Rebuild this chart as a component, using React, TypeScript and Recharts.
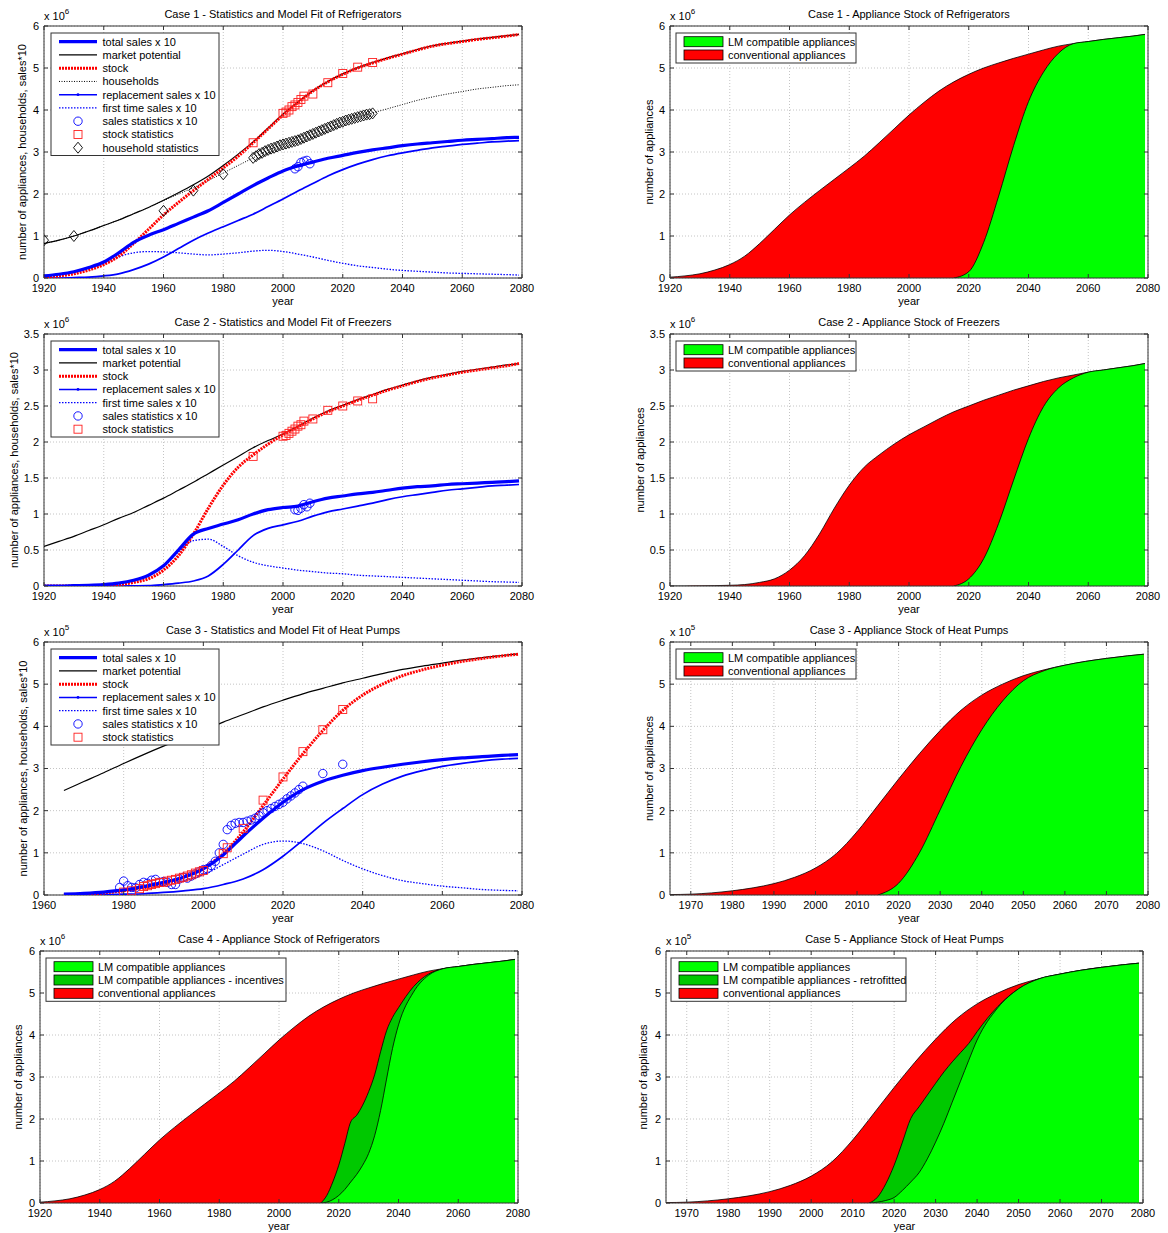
import React from 'react';
import {
  ComposedChart,
  Line,
  Area,
  Scatter,
  XAxis,
  YAxis,
  CartesianGrid,
  ReferenceArea,
} from 'recharts';

const FONT = '"Liberation Sans", Arial, Helvetica, sans-serif';
const BLUE = '#0000ff';
const RED = '#ff0000';
const GREEN = '#00ff00';
const DARK_GREEN = '#00c800';

// ---- axis ticks ----
const ticks1920 = [1920, 1940, 1960, 1980, 2000, 2020, 2040, 2060, 2080];
const ticks1960 = [1960, 1980, 2000, 2020, 2040, 2060, 2080];
const ticks1970 = [1970, 1980, 1990, 2000, 2010, 2020, 2030, 2040, 2050, 2060, 2070, 2080];
const ticksY6 = [0, 1, 2, 3, 4, 5, 6];
const ticksY35 = [0, 0.5, 1, 1.5, 2, 2.5, 3, 3.5];

// ---- model years ----
const yearsLong = [1920, 1925, 1930, 1935, 1940, 1945, 1950, 1955, 1960, 1965, 1970, 1975, 1980, 1985, 1990, 1995, 2000,
  2005, 2010, 2015, 2020, 2025, 2030, 2035, 2040, 2045, 2050, 2055, 2060, 2065, 2070, 2075, 2079];
const yearsHp = [1965, 1970, 1975, 1980, 1985, 1990, 1995, 2000, 2005, 2010, 2015, 2020, 2025, 2030, 2035, 2040, 2045,
  2050, 2055, 2060, 2065, 2070, 2075, 2079];

// ---- refrigerators (x 10^6) ----
const fridgeStock = [0.02, 0.05, 0.1, 0.19, 0.32, 0.52, 0.82, 1.16, 1.5, 1.8, 2.08, 2.35, 2.62, 2.9, 3.22, 3.55, 3.88,
  4.18, 4.45, 4.67, 4.85, 5.0, 5.12, 5.23, 5.33, 5.43, 5.52, 5.58, 5.63, 5.68, 5.72, 5.76, 5.8];
const fridgeMarket = [0.82, 0.9, 1.0, 1.12, 1.25, 1.38, 1.53, 1.68, 1.85, 2.03, 2.22, 2.43, 2.68, 2.95, 3.24, 3.57, 3.9,
  4.19, 4.46, 4.68, 4.86, 5.01, 5.13, 5.24, 5.34, 5.44, 5.53, 5.59, 5.64, 5.69, 5.73, 5.77, 5.8];
const fridgeHouseholds = [0.82, 0.9, 1.0, 1.12, 1.25, 1.38, 1.53, 1.68, 1.84, 2.0, 2.15, 2.32, 2.5, 2.68, 2.86, 3.04, 3.18,
  3.28, 3.43, 3.58, 3.72, 3.83, 3.93, 4.03, 4.13, 4.23, 4.31, 4.38, 4.44, 4.5, 4.54, 4.58, 4.6];
const fridgeTotal = [0.05, 0.09, 0.15, 0.25, 0.38, 0.6, 0.85, 1.02, 1.15, 1.3, 1.45, 1.6, 1.8, 2.0, 2.2, 2.38, 2.55,
  2.67, 2.76, 2.85, 2.92, 2.99, 3.05, 3.1, 3.15, 3.19, 3.22, 3.25, 3.28, 3.3, 3.32, 3.34, 3.35];
const fridgeRepl = [0, 0, 0.01, 0.02, 0.05, 0.1, 0.2, 0.33, 0.5, 0.7, 0.9, 1.07, 1.22, 1.37, 1.52, 1.7, 1.88,
  2.07, 2.25, 2.43, 2.58, 2.71, 2.82, 2.91, 2.98, 3.04, 3.1, 3.14, 3.18, 3.21, 3.24, 3.26, 3.27];
const fridgeFirst = [0.05, 0.09, 0.14, 0.23, 0.33, 0.5, 0.6, 0.63, 0.62, 0.6, 0.57, 0.55, 0.57, 0.6, 0.64, 0.66, 0.63,
  0.57, 0.5, 0.42, 0.35, 0.29, 0.25, 0.21, 0.18, 0.16, 0.14, 0.12, 0.11, 0.1, 0.09, 0.08, 0.07];

const fridgeSalesYears = [2004, 2005, 2006, 2007, 2008, 2009];
const fridgeSalesStats = [2.6, 2.65, 2.75, 2.78, 2.8, 2.72];
const fridgeStockYears = [1990, 2000, 2001, 2002, 2003, 2004, 2005, 2006, 2007, 2010, 2015, 2020, 2025, 2030];
const fridgeStockStats = [3.22, 3.92, 3.95, 4.0, 4.08, 4.12, 4.18, 4.25, 4.33, 4.38, 4.65, 4.87, 5.02, 5.13];
const householdYears = [1920, 1930, 1960, 1970, 1980,
  1990, 1991, 1992, 1993, 1994, 1995, 1996, 1997, 1998, 1999, 2000, 2001, 2002, 2003, 2004, 2005, 2006, 2007, 2008, 2009,
  2010, 2011, 2012, 2013, 2014, 2015, 2016, 2017, 2018, 2019, 2020, 2021, 2022, 2023, 2024, 2025, 2026, 2027, 2028, 2029, 2030];
const householdStats = [0.9, 1.0, 1.6, 2.08, 2.47,
  2.86, 2.9, 2.95, 2.98, 3.02, 3.05, 3.08, 3.1, 3.13, 3.16, 3.18, 3.2, 3.22, 3.24, 3.26, 3.28, 3.31, 3.34, 3.37, 3.4,
  3.43, 3.46, 3.49, 3.52, 3.55, 3.58, 3.61, 3.64, 3.67, 3.7, 3.72, 3.75, 3.77, 3.79, 3.81, 3.83, 3.85, 3.87, 3.89, 3.9, 3.92];

// ---- freezers (x 10^6) ----
const freezerStock = [0, 0, 0.002, 0.005, 0.01, 0.02, 0.05, 0.1, 0.22, 0.42, 0.72, 1.08, 1.4, 1.65, 1.82, 1.97, 2.1,
  2.21, 2.32, 2.42, 2.5, 2.58, 2.65, 2.72, 2.78, 2.84, 2.89, 2.93, 2.97, 3.0, 3.03, 3.06, 3.09];
const freezerMarket = [0.55, 0.62, 0.69, 0.77, 0.85, 0.94, 1.02, 1.12, 1.22, 1.33, 1.44, 1.56, 1.68, 1.8, 1.92, 2.02, 2.11,
  2.22, 2.33, 2.43, 2.51, 2.59, 2.66, 2.73, 2.79, 2.85, 2.9, 2.94, 2.98, 3.01, 3.04, 3.07, 3.09];
const freezerTotal = [0, 0, 0.005, 0.01, 0.02, 0.04, 0.08, 0.15, 0.28, 0.5, 0.72, 0.8, 0.86, 0.92, 1.0, 1.06, 1.09,
  1.11, 1.17, 1.22, 1.25, 1.28, 1.3, 1.33, 1.36, 1.38, 1.39, 1.41, 1.42, 1.43, 1.44, 1.45, 1.46];
const freezerRepl = [0, 0, 0, 0, 0, 0, 0.002, 0.005, 0.02, 0.04, 0.07, 0.14, 0.3, 0.5, 0.7, 0.8, 0.85,
  0.9, 0.97, 1.03, 1.07, 1.11, 1.15, 1.2, 1.24, 1.27, 1.3, 1.33, 1.35, 1.37, 1.39, 1.4, 1.41];
const freezerFirst = [0, 0, 0.005, 0.01, 0.02, 0.04, 0.08, 0.15, 0.27, 0.47, 0.63, 0.65, 0.55, 0.42, 0.33, 0.28, 0.25,
  0.22, 0.2, 0.18, 0.17, 0.15, 0.14, 0.13, 0.12, 0.11, 0.1, 0.09, 0.08, 0.07, 0.06, 0.055, 0.05];

const freezerSalesYears = [2004, 2005, 2006, 2007, 2008, 2009];
const freezerSalesStats = [1.06, 1.05, 1.08, 1.13, 1.1, 1.15];
const freezerStockYears = [1990, 2000, 2001, 2002, 2003, 2004, 2005, 2006, 2007, 2010, 2015, 2020, 2025, 2030];
const freezerStockStats = [1.8, 2.08, 2.09, 2.12, 2.15, 2.18, 2.22, 2.24, 2.29, 2.32, 2.44, 2.5, 2.57, 2.6];

// ---- heat pumps (x 10^5) ----
const hpStock = [0.01, 0.02, 0.05, 0.1, 0.17, 0.27, 0.42, 0.64, 0.98, 1.5, 2.12, 2.75, 3.35, 3.9, 4.38, 4.74, 5.0,
  5.2, 5.34, 5.45, 5.54, 5.61, 5.67, 5.71];
const hpMarket = [2.48, 2.69, 2.9, 3.12, 3.33, 3.53, 3.72, 3.9, 4.1, 4.28, 4.46, 4.62, 4.77, 4.9, 5.03, 5.14, 5.25,
  5.35, 5.43, 5.5, 5.57, 5.63, 5.68, 5.72];
const hpTotal = [0.02, 0.04, 0.07, 0.12, 0.2, 0.3, 0.42, 0.62, 0.95, 1.4, 1.82, 2.2, 2.5, 2.7, 2.84, 2.95, 3.03,
  3.1, 3.16, 3.21, 3.25, 3.28, 3.31, 3.33];
const hpRepl = [0, 0.005, 0.01, 0.02, 0.03, 0.06, 0.1, 0.15, 0.25, 0.38, 0.6, 0.92, 1.3, 1.7, 2.05, 2.38, 2.63,
  2.82, 2.95, 3.05, 3.12, 3.18, 3.22, 3.24];
const hpFirst = [0.02, 0.035, 0.06, 0.1, 0.17, 0.25, 0.34, 0.48, 0.72, 0.97, 1.2, 1.28, 1.22, 1.05, 0.82, 0.62, 0.46,
  0.34, 0.27, 0.21, 0.17, 0.13, 0.11, 0.1];

const hpSalesYears = [1979, 1980, 1981, 1982, 1983, 1984, 1985, 1986, 1987, 1988, 1989, 1990, 1991, 1992, 1993, 1994,
  1995, 1996, 1997, 1998, 1999, 2000, 2001, 2002, 2003, 2004, 2005, 2006, 2007, 2008, 2009, 2010, 2011, 2012, 2013,
  2014, 2015, 2016, 2017, 2018, 2019, 2020, 2021, 2022, 2023, 2024, 2025, 2030, 2035];
const hpSalesStats = [0.18, 0.33, 0.22, 0.18, 0.17, 0.25, 0.3, 0.28, 0.35, 0.37, 0.3, 0.32, 0.3, 0.25, 0.25, 0.38,
  0.42, 0.4, 0.45, 0.5, 0.55, 0.6, 0.62, 0.7, 0.8, 1.0, 1.2, 1.55, 1.65, 1.7, 1.72, 1.72, 1.75, 1.78, 1.82,
  1.88, 1.95, 2.0, 2.05, 2.1, 2.15, 2.2, 2.28, 2.35, 2.42, 2.5, 2.58, 2.88, 3.1];
const hpStockYears = [1980, 1982, 1984, 1985, 1986, 1987, 1988, 1989, 1990, 1991, 1992, 1993, 1994, 1995, 1996, 1997,
  1998, 1999, 2000, 2005, 2006, 2010, 2015, 2020, 2025, 2030, 2035];
const hpStockStats = [0.07, 0.1, 0.15, 0.2, 0.22, 0.25, 0.27, 0.3, 0.3, 0.33, 0.35, 0.37, 0.4, 0.42, 0.45, 0.48,
  0.52, 0.55, 0.58, 0.98, 1.12, 1.58, 2.25, 2.8, 3.4, 3.92, 4.4];

// ---- LM compatible stock ----
const lmYears = [2015, 2020, 2025, 2030, 2035, 2040, 2045, 2050, 2055, 2060, 2065, 2070, 2075, 2079];
const case1Lm = [0, 0.15, 0.85, 1.95, 3.15, 4.2, 4.9, 5.35, 5.58, 5.63, 5.68, 5.72, 5.76, 5.8];
const case2Lm = [0, 0.1, 0.38, 0.87, 1.47, 2.05, 2.49, 2.75, 2.89, 2.97, 3.0, 3.03, 3.06, 3.09];
const case3Lm = [0, 0.28, 1.0, 2.02, 3.05, 3.92, 4.6, 5.08, 5.32, 5.45, 5.54, 5.61, 5.67, 5.71];

const policyYears = [2014, 2016, 2018, 2020, 2022, 2024, 2026, 2028, 2030, 2032, 2034, 2036, 2038, 2040, 2045, 2050,
  2055, 2060, 2065, 2070, 2075, 2079];
const case4Incent = [0, 0.18, 0.5, 0.9, 1.41, 1.93, 2.09, 2.33, 2.65, 3.05, 3.6, 4.1, 4.42, 4.65, 5.15, 5.45,
  5.58, 5.63, 5.68, 5.72, 5.76, 5.8];
const case4Lm = [0, 0.02, 0.08, 0.18, 0.32, 0.5, 0.68, 0.9, 1.18, 1.6, 2.2, 2.95, 3.68, 4.24, 5.02, 5.42,
  5.58, 5.63, 5.68, 5.72, 5.76, 5.8];
const case5Retro = [0, 0.14, 0.46, 0.9, 1.45, 2.01, 2.29, 2.57, 2.85, 3.12, 3.36, 3.58, 3.8, 4.08, 4.68, 5.1,
  5.34, 5.45, 5.54, 5.61, 5.67, 5.71];
const case5Lm = [0, 0.02, 0.06, 0.13, 0.3, 0.5, 0.72, 1.05, 1.45, 1.9, 2.4, 2.9, 3.4, 3.88, 4.65, 5.1,
  5.34, 5.45, 5.54, 5.61, 5.67, 5.71];

type Row = { year: number; [k: string]: number };

// merge several [years, values] series into one table keyed by year
function table(cols: Record<string, [number[], number[]]>): Row[] {
  const rows = new Map<number, Row>();
  Object.entries(cols).forEach(([key, [years, vals]]) => {
    years.forEach((y, i) => {
      const r = rows.get(y) ?? { year: y };
      r[key] = vals[i];
      rows.set(y, r);
    });
  });
  return [...rows.values()].sort((a, b) => a.year - b.year);
}

const points = (years: number[], vals: number[]) => years.map((year, i) => ({ year, v: vals[i] }));

const fridgeTable = table({
  total: [yearsLong, fridgeTotal], market: [yearsLong, fridgeMarket], stock: [yearsLong, fridgeStock],
  households: [yearsLong, fridgeHouseholds], repl: [yearsLong, fridgeRepl], first: [yearsLong, fridgeFirst],
});
const freezerTable = table({
  total: [yearsLong, freezerTotal], market: [yearsLong, freezerMarket], stock: [yearsLong, freezerStock],
  repl: [yearsLong, freezerRepl], first: [yearsLong, freezerFirst],
});
const hpTable = table({
  total: [yearsHp, hpTotal], market: [yearsHp, hpMarket], stock: [yearsHp, hpStock],
  repl: [yearsHp, hpRepl], first: [yearsHp, hpFirst],
});
const case1Table = table({ stock: [yearsLong, fridgeStock], lm: [lmYears, case1Lm] });
const case2Table = table({ stock: [yearsLong, freezerStock], lm: [lmYears, case2Lm] });
const case3Table = table({ stock: [yearsHp, hpStock], lm: [lmYears, case3Lm] });
const case4Table = table({ stock: [yearsLong, fridgeStock], extra: [policyYears, case4Incent], lm: [policyYears, case4Lm] });
const case5Table = table({ stock: [yearsHp, hpStock], extra: [policyYears, case5Retro], lm: [policyYears, case5Lm] });

// ---- plot boxes (page coordinates of the axes rectangle) ----
type Box = { left: number; top: number; w: number; h: number };
const P1: Box = { left: 44, top: 26, w: 478, h: 252 };
const P2: Box = { left: 670, top: 26, w: 478, h: 252 };
const P3: Box = { left: 44, top: 334, w: 478, h: 252 };
const P4: Box = { left: 670, top: 334, w: 478, h: 252 };
const P5: Box = { left: 44, top: 642, w: 478, h: 253 };
const P6: Box = { left: 670, top: 642, w: 478, h: 253 };
const P7: Box = { left: 40, top: 951, w: 478, h: 252 };
const P8: Box = { left: 666, top: 951, w: 477, h: 252 };

const Circle = (p: any) => <circle cx={p.cx} cy={p.cy} r={4.2} fill="none" stroke={BLUE} strokeWidth={0.9} />;
const Square = (p: any) => (
  <rect x={p.cx - 4} y={p.cy - 4} width={8} height={8} fill="none" stroke="#ff2020" strokeWidth={0.9} />
);
const Diamond = (p: any) => (
  <path d={`M${p.cx},${p.cy - 5.5}L${p.cx + 4.5},${p.cy}L${p.cx},${p.cy + 5.5}L${p.cx - 4.5},${p.cy}Z`}
    fill="none" stroke="#000" strokeWidth={0.9} />
);

const tickStyle = { fontSize: 11, fill: '#000', fontFamily: FONT };
const GAP = 5;
const TICK = 4;

function Panel({ box, xDomain, xTicks, yMax, yTicks, data, children }: {
  box: Box; xDomain: [number, number]; xTicks: number[]; yMax: number; yTicks: number[]; data: Row[];
  children: React.ReactNode;
}) {
  const ml = 50, mt = 10, mr = 14, mb = 30;
  // MATLAB style: tick marks point inward on all four sides
  const xTick = (p: any) => {
    const bottom = p.y - GAP;
    const top = bottom - box.h;
    return (
      <g>
        <line x1={p.x} x2={p.x} y1={bottom} y2={bottom - TICK} stroke="#333" />
        <line x1={p.x} x2={p.x} y1={top} y2={top + TICK} stroke="#333" />
        <text x={p.x} y={p.y + 1} dy="0.71em" textAnchor="middle" {...tickStyle}>{p.payload.value}</text>
      </g>
    );
  };
  const yTick = (p: any) => {
    const left = p.x + GAP;
    const right = left + box.w;
    return (
      <g>
        <line x1={left} x2={left + TICK} y1={p.y} y2={p.y} stroke="#333" />
        <line x1={right} x2={right - TICK} y1={p.y} y2={p.y} stroke="#333" />
        <text x={p.x} y={p.y} dy="0.355em" textAnchor="end" {...tickStyle}>{p.payload.value}</text>
      </g>
    );
  };
  return (
    <div style={{ position: 'absolute', left: box.left - ml, top: box.top - mt }}>
      <ComposedChart width={ml + box.w + mr} height={mt + box.h + mb} data={data}
        margin={{ top: mt, right: mr, bottom: 0, left: 0 }}>
        <CartesianGrid stroke="#c4c4c4" strokeDasharray="1 2" />
        <XAxis dataKey="year" type="number" domain={xDomain} ticks={xTicks} allowDataOverflow interval={0}
          height={mb} tickLine={false} tickSize={0} tickMargin={GAP} axisLine={false} tick={xTick} />
        <YAxis type="number" domain={[0, yMax]} ticks={yTicks} allowDataOverflow interval={0}
          width={ml} tickLine={false} tickSize={0} tickMargin={GAP} axisLine={false} tick={yTick} />
        {children}
        <ReferenceArea x1={xDomain[0]} x2={xDomain[1]} y1={0} y2={yMax} fill="none" fillOpacity={0}
          stroke="#333" strokeWidth={1} ifOverflow="visible" />
      </ComposedChart>
    </div>
  );
}

const line = (key: string, stroke: string, width: number, dash?: string) => (
  <Line key={key} dataKey={key} type="monotone" stroke={stroke} strokeWidth={width} strokeDasharray={dash}
    dot={false} activeDot={false} connectNulls isAnimationActive={false} />
);

const area = (key: string, fill: string) => (
  <Area key={key} dataKey={key} type="monotone" fill={fill} fillOpacity={1} stroke="#000" strokeWidth={0.8}
    dot={false} activeDot={false} connectNulls isAnimationActive={false} />
);

const scatter = (key: string, years: number[], vals: number[], shape: any) => (
  <Scatter key={key} data={points(years, vals)} dataKey="v" shape={shape} isAnimationActive={false} />
);

type LegendItem = { label: string; stroke?: string; width?: number; dash?: string; marker?: string };

const salesLegend: LegendItem[] = [
  { label: 'total sales x 10', stroke: BLUE, width: 3.2 },
  { label: 'market potential', stroke: '#000', width: 1.2 },
  { label: 'stock', stroke: RED, width: 3, dash: '2 1' },
  { label: 'households', stroke: '#000', width: 1, dash: '1 1.5' },
  { label: 'replacement sales x 10', stroke: BLUE, width: 1.6, marker: 'dot' },
  { label: 'first time sales x 10', stroke: BLUE, width: 1.3, dash: '1.5 1.5' },
  { label: 'sales statistics x 10', marker: 'circle' },
  { label: 'stock statistics', marker: 'square' },
  { label: 'household statistics', marker: 'diamond' },
];
const salesLegendNoHouse = salesLegend.filter((it) => !it.label.startsWith('household'));

function LineLegend({ x, y, w, items }: { x: number; y: number; w: number; items: LegendItem[] }) {
  const rowH = 13.25;
  const h = 8.7 + (items.length - 1) * rowH + 7.8;
  return (
    <g>
      <rect x={x} y={y} width={w} height={h} fill="#fff" stroke="#333" strokeWidth={1} />
      {items.map((it, i) => {
        const cy = y + 8.7 + i * rowH;
        const mx = x + 27;
        return (
          <g key={it.label}>
            {it.stroke && (
              <line x1={x + 8} x2={x + 46} y1={cy} y2={cy} stroke={it.stroke} strokeWidth={it.width}
                strokeDasharray={it.dash} />
            )}
            {it.marker === 'dot' && <circle cx={mx} cy={cy} r={1.4} fill={BLUE} />}
            {it.marker === 'circle' && Circle({ cx: mx, cy })}
            {it.marker === 'square' && Square({ cx: mx, cy })}
            {it.marker === 'diamond' && Diamond({ cx: mx, cy })}
            <text x={x + 51.5} y={cy + 4} fontSize={11}>{it.label}</text>
          </g>
        );
      })}
    </g>
  );
}

function AreaLegend({ x, y, w, items }: { x: number; y: number; w: number; items: { label: string; fill: string }[] }) {
  const rowH = 13.3;
  const h = 8.7 + (items.length - 1) * rowH + 8;
  return (
    <g>
      <rect x={x} y={y} width={w} height={h} fill="#fff" stroke="#333" strokeWidth={1} />
      {items.map((it, i) => {
        const cy = y + 8.7 + i * rowH;
        return (
          <g key={it.label}>
            <rect x={x + 8} y={cy - 5} width={39} height={10} fill={it.fill} stroke="#000" strokeWidth={0.8} />
            <text x={x + 52} y={cy + 4} fontSize={11}>{it.label}</text>
          </g>
        );
      })}
    </g>
  );
}

function Labels({ box, title, exp, ylabel, ylx }: { box: Box; title: string; exp: string; ylabel: string; ylx: number }) {
  const cx = box.left + box.w / 2;
  return (
    <g>
      <text x={cx} y={box.top - 8.5} fontSize={11} textAnchor="middle">{title}</text>
      <text x={box.left} y={box.top - 6.5} fontSize={11}>
        x 10<tspan dy={-6} fontSize={8}>{exp}</tspan>
      </text>
      <text transform={`translate(${ylx}, ${box.top + box.h / 2}) rotate(-90)`} fontSize={11} textAnchor="middle">
        {ylabel}
      </text>
      <text x={cx} y={box.top + box.h + 26.5} fontSize={11} textAnchor="middle">year</text>
    </g>
  );
}

const stockLegend = [
  { label: 'LM compatible appliances', fill: GREEN },
  { label: 'conventional appliances', fill: RED },
];
const SALES_Y = 'number of appliances, households, sales*10';
const STOCK_Y = 'number of appliances';

export default function App() {
  return (
    <div style={{ position: 'absolute', left: 0, top: 0, width: 1168, height: 1233, background: '#fff', fontFamily: FONT }}>
      <Panel box={P1} xDomain={[1920, 2080]} xTicks={ticks1920} yMax={6} yTicks={ticksY6} data={fridgeTable}>
        {line('first', BLUE, 1.3, '1.5 1.5')}
        {line('repl', BLUE, 1.7)}
        {line('households', '#000', 1, '1 1.5')}
        {line('market', '#000', 1.2)}
        {line('stock', RED, 3, '2 1')}
        {line('total', BLUE, 3.2)}
        {scatter('sales', fridgeSalesYears, fridgeSalesStats, Circle)}
        {scatter('stockStats', fridgeStockYears, fridgeStockStats, Square)}
        {scatter('house', householdYears, householdStats, Diamond)}
      </Panel>
      <Panel box={P3} xDomain={[1920, 2080]} xTicks={ticks1920} yMax={3.5} yTicks={ticksY35} data={freezerTable}>
        {line('first', BLUE, 1.3, '1.5 1.5')}
        {line('repl', BLUE, 1.7)}
        {line('market', '#000', 1.2)}
        {line('stock', RED, 3, '2 1')}
        {line('total', BLUE, 3.2)}
        {scatter('sales', freezerSalesYears, freezerSalesStats, Circle)}
        {scatter('stockStats', freezerStockYears, freezerStockStats, Square)}
      </Panel>
      <Panel box={P5} xDomain={[1960, 2080]} xTicks={ticks1960} yMax={6} yTicks={ticksY6} data={hpTable}>
        {line('first', BLUE, 1.3, '1.5 1.5')}
        {line('repl', BLUE, 1.7)}
        {line('market', '#000', 1.2)}
        {line('stock', RED, 3, '2 1')}
        {line('total', BLUE, 3.2)}
        {scatter('sales', hpSalesYears, hpSalesStats, Circle)}
        {scatter('stockStats', hpStockYears, hpStockStats, Square)}
      </Panel>
      <Panel box={P2} xDomain={[1920, 2080]} xTicks={ticks1920} yMax={6} yTicks={ticksY6} data={case1Table}>
        {area('stock', RED)}
        {area('lm', GREEN)}
      </Panel>
      <Panel box={P4} xDomain={[1920, 2080]} xTicks={ticks1920} yMax={3.5} yTicks={ticksY35} data={case2Table}>
        {area('stock', RED)}
        {area('lm', GREEN)}
      </Panel>
      <Panel box={P6} xDomain={[1965, 2080]} xTicks={ticks1970} yMax={6} yTicks={ticksY6} data={case3Table}>
        {area('stock', RED)}
        {area('lm', GREEN)}
      </Panel>
      <Panel box={P7} xDomain={[1920, 2080]} xTicks={ticks1920} yMax={6} yTicks={ticksY6} data={case4Table}>
        {area('stock', RED)}
        {area('extra', DARK_GREEN)}
        {area('lm', GREEN)}
      </Panel>
      <Panel box={P8} xDomain={[1965, 2080]} xTicks={ticks1970} yMax={6} yTicks={ticksY6} data={case5Table}>
        {area('stock', RED)}
        {area('extra', DARK_GREEN)}
        {area('lm', GREEN)}
      </Panel>

      <svg width={1168} height={1233} style={{ position: 'absolute', left: 0, top: 0, pointerEvents: 'none' }}
        fontFamily={FONT} fill="#000">
        <Labels box={P1} title="Case 1 - Statistics and Model Fit of Refrigerators" exp="6" ylabel={SALES_Y} ylx={26} />
        <Labels box={P3} title="Case 2 - Statistics and Model Fit of Freezers" exp="6" ylabel={SALES_Y} ylx={18} />
        <Labels box={P5} title="Case 3 - Statistics and Model Fit of Heat Pumps" exp="5" ylabel={SALES_Y} ylx={26.5} />
        <Labels box={P2} title="Case 1 - Appliance Stock of Refrigerators" exp="6" ylabel={STOCK_Y} ylx={653} />
        <Labels box={P4} title="Case 2 - Appliance Stock of Freezers" exp="6" ylabel={STOCK_Y} ylx={644} />
        <Labels box={P6} title="Case 3 - Appliance Stock of Heat Pumps" exp="5" ylabel={STOCK_Y} ylx={653} />
        <Labels box={P7} title="Case 4 - Appliance Stock of Refrigerators" exp="6" ylabel={STOCK_Y} ylx={22} />
        <Labels box={P8} title="Case 5 - Appliance Stock of Heat Pumps" exp="5" ylabel={STOCK_Y} ylx={647} />

        <LineLegend x={51} y={33} w={168} items={salesLegend} />
        <LineLegend x={51} y={341} w={168} items={salesLegendNoHouse} />
        <LineLegend x={51} y={649} w={168} items={salesLegendNoHouse} />
        <AreaLegend x={676} y={33} w={180} items={stockLegend} />
        <AreaLegend x={676} y={341} w={180} items={stockLegend} />
        <AreaLegend x={676} y={649} w={180} items={stockLegend} />
        <AreaLegend x={46} y={958} w={240} items={[
          { label: 'LM compatible appliances', fill: GREEN },
          { label: 'LM compatible appliances - incentives', fill: DARK_GREEN },
          { label: 'conventional appliances', fill: RED },
        ]} />
        <AreaLegend x={671} y={958} w={235} items={[
          { label: 'LM compatible appliances', fill: GREEN },
          { label: 'LM compatible appliances - retrofitted', fill: DARK_GREEN },
          { label: 'conventional appliances', fill: RED },
        ]} />
      </svg>
    </div>
  );
}
